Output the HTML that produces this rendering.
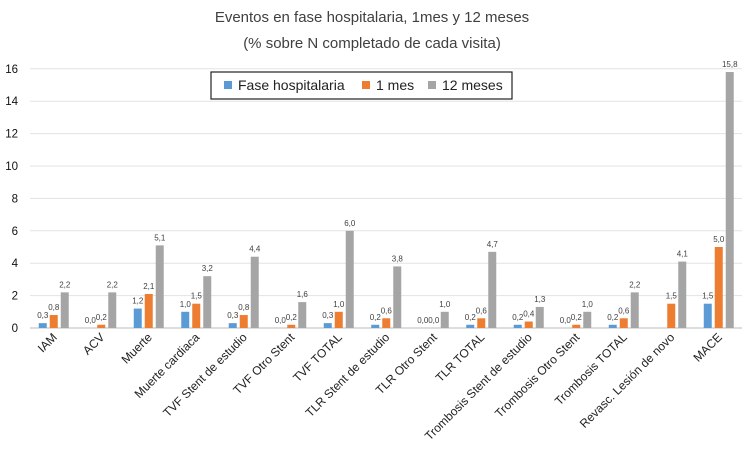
<!DOCTYPE html>
<html><head><meta charset="utf-8"><style>
body{margin:0;background:#fff;font-family:"Liberation Sans",sans-serif;}
</style></head><body>
<svg id="chart" width="750" height="469" style="display:block">
<text x="372" y="22" text-anchor="middle" font-size="15" fill="#404040">Eventos en fase hospitalaria, 1mes y 12 meses</text>
<text x="372" y="48" text-anchor="middle" font-size="15" fill="#404040">(% sobre N completado de cada visita)</text>
<g id="grid"></g><g id="bars"></g><g id="labels"></g>
<g>
<rect x="211" y="72" width="301" height="27" fill="#fff" stroke="#222" stroke-width="1.2"/>
<rect x="224" y="81" width="8" height="8" fill="#5b9bd5"/>
<text x="238" y="90" font-size="14" fill="#222">Fase hospitalaria</text>
<rect x="362" y="81" width="8" height="8" fill="#ed7d31"/>
<text x="376" y="90" font-size="14" fill="#222">1 mes</text>
<rect x="428" y="81" width="8" height="8" fill="#a5a5a5"/>
<text x="442" y="90" font-size="14" fill="#222">12 meses</text>
</g>
</svg>
<script>
const categories=["IAM","ACV","Muerte","Muerte cardiaca","TVF Stent de estudio","TVF Otro Stent","TVF TOTAL","TLR Stent de estudio","TLR Otro Stent","TLR TOTAL","Trombosis Stent de estudio","Trombosis Otro Stent","Trombosis TOTAL","Revasc. Lesión de novo","MACE"];
const hospital=[0.3,0.0,1.2,1.0,0.3,0.0,0.3,0.2,0.0,0.2,0.2,0.0,0.2,null,1.5];
const mes1=[0.8,0.2,2.1,1.5,0.8,0.2,1.0,0.6,0.0,0.6,0.4,0.2,0.6,1.5,5.0];
const meses12=[2.2,2.2,5.1,3.2,4.4,1.6,6.0,3.8,1.0,4.7,1.3,1.0,2.2,4.1,15.8];
const yTicks=[0,2,4,6,8,10,12,14,16];
const NS="http://www.w3.org/2000/svg";
const x0=30,band=47.5,y0=328,ppu=16.2;
const y=v=>y0-v*ppu;
const cx=i=>x0+band*(i+0.5);
function mk(t,a,p,txt){const e=document.createElementNS(NS,t);for(const k in a)e.setAttribute(k,a[k]);if(txt!==undefined)e.textContent=txt;p.appendChild(e);return e;}
const G=document.getElementById('grid'),B=document.getElementById('bars'),L=document.getElementById('labels');
yTicks.forEach(t=>{
 const ln=mk('line',{x1:x0,x2:742,y1:y(t),y2:y(t),stroke:t===0?'#bbb':'#e3e3e3','stroke-width':1},G);
 
 
 const tx=mk('text',{x:18,y:y(t)+4,'text-anchor':'end','font-size':11.5,fill:'#111'},G,String(t));
 
 
});
const series=[[hospital,'#5b9bd5',-11],[mes1,'#ed7d31',0],[meses12,'#a5a5a5',11]];
categories.forEach((c,i)=>{
 series.forEach(([arr,col,off])=>{
  const v=arr[i]; if(v===null)return;
  const bx=cx(i)+off-4;
  const r=mk('rect',{x:bx,y:y(v),width:8,height:Math.max(0,v*ppu),fill:col},B);
  
  
  const t=mk('text',{x:bx+4,y:y(v)-5,'text-anchor':'middle','font-size':8,fill:'#404040'},B,v.toFixed(1).replace('.',','));
  
  
 });
 const lx=cx(i)+4,ly=338;
 const t=mk('text',{x:lx,y:ly,'text-anchor':'end','font-size':12,fill:'#222',transform:`rotate(-45 ${lx} ${ly})`},L,c);
 
 
});
</script>
</body></html>
